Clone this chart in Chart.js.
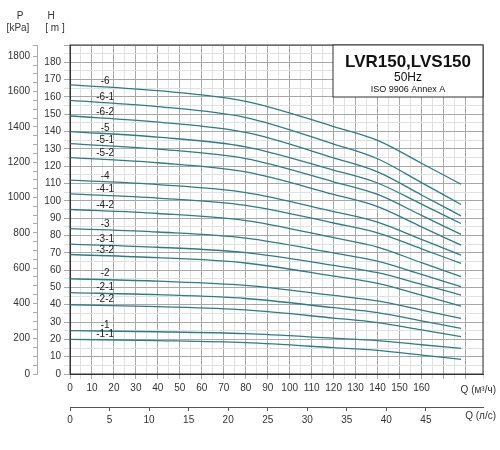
<!DOCTYPE html>
<html>
<head>
<meta charset="utf-8">
<script src="https://cdn.jsdelivr.net/npm/chart.js@4"></script>
<style>
  body { margin: 0; background: #fff; }
  #wrap { width: 500px; height: 450px; }
</style>
</head>
<body>
<div id="wrap"><canvas id="pumpChart"></canvas></div>
<script>
// Q points (m3/h) shared by all curves
const flowQ = [0, 40, 80, 120, 140, 160, 178];

const curveNames = ['-6', '-6-1', '-6-2', '-5', '-5-1', '-5-2', '-4', '-4-1', '-4-2',
  '-3', '-3-1', '-3-2', '-2', '-2-1', '-2-2', '-1', '-1-1'];

// head H (m), one row per curve
const c6 = [167, 163.6, 157.5, 142.9, 134.9, 121.7, 109.6];
const c61 = [158, 154.4, 148.1, 132.8, 124.3, 110.5, 97.9];
const c62 = [149, 145.5, 139.5, 124.8, 116.7, 103.4, 91.3];
const c5 = [140, 136.8, 131.2, 117.7, 110.3, 98.1, 86.9];
const c51 = [133, 129.9, 124.4, 111, 103.7, 91.6, 80.6];
const c52 = [125, 122, 116.7, 103.7, 96.7, 85, 74.4];
const c4 = [112, 109.4, 104.8, 93.8, 87.7, 77.7, 68.6];
const c41 = [104, 101.6, 97.4, 87.2, 81.5, 72.3, 63.9];
const c42 = [95, 92.7, 88.6, 78.7, 73.3, 64.3, 56.2];
const c3 = [84, 82, 78.5, 69.9, 65.2, 57.5, 50.4];
const c31 = [75, 73.2, 70.1, 62.7, 58.5, 51.8, 45.6];
const c32 = [69, 67.2, 64.1, 56.5, 52.3, 45.5, 39.2];
const c2 = [55, 53.6, 51.2, 45.4, 42.2, 36.9, 32.1];
const c21 = [47, 45.8, 43.6, 38.3, 35.5, 30.7, 26.4];
const c22 = [40, 38.9, 37, 32.3, 29.7, 25.5, 21.6];
const c1 = [25, 24.4, 23.3, 20.7, 19.3, 16.9, 14.8];
const c11 = [20, 19.3, 18.1, 15.2, 13.6, 10.9, 8.5];

const allCurves = [c6, c61, c62, c5, c51, c52, c4, c41, c42, c3, c31, c32, c2, c21, c22, c1, c11];

const Q_MAX = 188;
const H_MAX = 190;
const FONT = '"Liberation Sans", Arial, sans-serif';
const LINE = '#2b7d88';

const datasets = allCurves.map((arr, i) => ({
  label: curveNames[i],
  data: arr.map((h, j) => ({ x: flowQ[j], y: h })),
  borderColor: LINE,
  borderWidth: 1.3,
  pointRadius: 0,
  cubicInterpolationMode: 'monotone',
  fill: false
}));

const extras = {
  id: 'extras',
  afterDatasetsDraw(chart) {
    const c = chart.ctx, a = chart.chartArea;
    const x = chart.scales.x, y = chart.scales.y;
    c.save();
    // curve labels
    c.fillStyle = '#222';
    c.font = '10px ' + FONT;
    c.textAlign = 'center';
    c.textBaseline = 'bottom';
    allCurves.forEach((arr, i) => {
      const h = arr[0] - (arr[0] - arr[1]) * 16 / 40;
      c.fillText(curveNames[i], x.getPixelForValue(16), y.getPixelForValue(h) - 1);
    });
    // plot frame
    c.strokeStyle = '#333';
    c.lineWidth = 1;
    c.strokeRect(a.left, a.top, a.right - a.left, a.bottom - a.top);
    // title box
    c.fillStyle = '#fff';
    c.fillRect(333, a.top, a.right - 333, 52);
    c.strokeRect(333, a.top, a.right - 333, 52);
    c.fillStyle = '#111';
    c.textBaseline = 'middle';
    c.font = 'bold 17px ' + FONT;
    c.fillText('LVR150,LVS150', 408, 62);
    c.font = '12px ' + FONT;
    c.fillText('50Hz', 408, 78);
    c.font = '9px ' + FONT;
    c.fillText('ISO 9906 Annex A', 408, 90);
    // axis titles
    c.fillStyle = '#333';
    c.font = '10px ' + FONT;
    c.fillText('P', 20, 16);
    c.fillText('[kPa]', 18, 28);
    c.fillText('H', 51, 16);
    c.fillText('[ m ]', 55, 28);
    c.textAlign = 'right';
    c.fillText('Q (м³/ч)', 496, 390);
    c.fillText('Q (л/с)', 496, 416);
    c.restore();
  }
};

new Chart(document.getElementById('pumpChart'), {
  type: 'line',
  data: { datasets: datasets },
  plugins: [extras],
  options: {
    responsive: true,
    maintainAspectRatio: false,
    animation: false,
    layout: { padding: { top: 45, right: 17, bottom: 23, left: 0 } },
    plugins: { legend: { display: false }, tooltip: { enabled: false } },
    scales: {
      x: {
        type: 'linear', position: 'bottom', min: 0, max: Q_MAX,
        afterFit(s) { s.height = 33; },
        ticks: {
          stepSize: 5, autoSkip: false, maxRotation: 0, color: '#333', font: { size: 10, family: FONT },
          callback: v => (v % 10 === 0 && v <= 160) ? v : ''
        },
        grid: {
          color: ctx => (ctx.tick && ctx.tick.value % 10 === 0) ? '#a8a8a8' : '#e0e0e0',
          tickLength: 5
        },
        border: { color: '#333' }
      },
      x2: {
        type: 'linear', position: 'bottom', min: 0, max: Q_MAX / 3.6,
        afterFit(s) { s.height = 20; },
        afterBuildTicks(s) { s.ticks = s.ticks.filter(t => t.value <= 45); },
        ticks: { stepSize: 5, maxRotation: 0, color: '#333', font: { size: 10, family: FONT } },
        grid: { drawOnChartArea: false, tickLength: 4, color: '#555' },
        border: { color: '#555' }
      },
      y: {
        type: 'linear', position: 'left', min: 0, max: H_MAX,
        afterFit(s) { s.width = 33; },
        ticks: {
          stepSize: 5, autoSkip: false, color: '#333', font: { size: 10, family: FONT },
          callback: v => (v % 10 === 0 && v <= 180) ? v : ''
        },
        grid: {
          color: ctx => (ctx.tick && ctx.tick.value % 10 === 0) ? '#a8a8a8' : '#e0e0e0',
          tickLength: 6
        },
        border: { color: '#333' }
      },
      p: {
        type: 'linear', position: 'left', min: 0, max: H_MAX * 9.81,
        afterFit(s) { s.width = 37; },
        ticks: {
          stepSize: 50, autoSkip: false, color: '#333', font: { size: 10, family: FONT },
          callback: v => (v % 200 === 0) ? v : ''
        },
        grid: { drawOnChartArea: false, tickLength: 4, color: '#aaa' },
        border: { color: '#aaa' }
      }
    }
  }
});
</script>
</body>
</html>
